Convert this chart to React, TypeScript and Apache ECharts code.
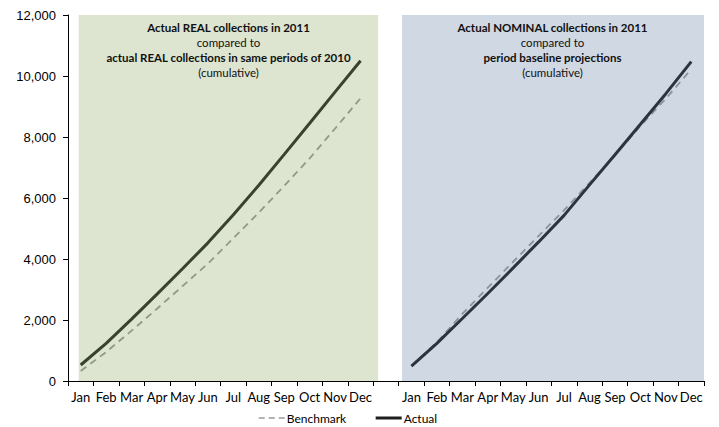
import React, { useEffect, useRef } from "react";
import * as echarts from "echarts";

const months = ["Jan", "Feb", "Mar", "Apr", "May", "Jun", "Jul", "Aug", "Sep", "Oct", "Nov", "Dec"];
const yTicks = [0, 2000, 4000, 6000, 8000, 10000, 12000];

// Left panel: REAL collections
const realActual = [525, 1235, 2030, 2850, 3680, 4530, 5450, 6420, 7430, 8450, 9480, 10500];
const realBenchmark = [330, 950, 1650, 2370, 3110, 3850, 4680, 5520, 6400, 7300, 8280, 9270];
// Right panel: NOMINAL collections
const nominalActual = [490, 1235, 2050, 2870, 3710, 4560, 5430, 6430, 7420, 8420, 9420, 10470];
const nominalBenchmark = [500, 1270, 2200, 3060, 3910, 4760, 5600, 6500, 7400, 8360, 9260, 10220];

const leftTitle = [
  { text: "Actual REAL collections in 2011", bold: true },
  { text: "compared to", bold: false },
  { text: "actual REAL collections in same periods of 2010", bold: true },
  { text: "(cumulative)", bold: false },
];
const rightTitle = [
  { text: "Actual NOMINAL collections in 2011", bold: true },
  { text: "compared to", bold: false },
  { text: "period baseline projections", bold: true },
  { text: "(cumulative)", bold: false },
];

const FONT = "Lato";

export default function App() {
  const ref = useRef<HTMLDivElement>(null);

  useEffect(() => {
    if (!ref.current) return;
    const chart = echarts.init(ref.current, undefined, { renderer: "svg" });

    const categories = [...months, "", ...months];
    const gap = [null];
    const fill = months.map(() => null);
    const leftA = [...realActual, ...gap, ...fill];
    const leftB = [...realBenchmark, ...gap, ...fill];
    const rightA = [...fill, ...gap, ...nominalActual];
    const rightB = [...fill, ...gap, ...nominalBenchmark];

    const titleTexts = (lines: { text: string; bold: boolean }[], cx: number) =>
      lines.map((l, i) => ({
        type: "text",
        x: cx,
        y: 27 + i * 15,
        style: {
          text: l.text,
          align: "center",
          verticalAlign: "middle",
          fontFamily: FONT,
          fontSize: 11.5,
          fontWeight: l.bold ? "bold" : "normal",
          fill: "#111",
        },
        z: 100,
      }));

    chart.setOption({
      animation: false,
      backgroundColor: "#ffffff",
      grid: { left: 68, right: 15, top: 15, bottom: 46, containLabel: false },
      xAxis: [
        {
          type: "category",
          data: categories,
          boundaryGap: true,
          axisLine: { show: true, lineStyle: { color: "#000", width: 1 } },
          axisTick: { show: true, length: 5, lineStyle: { color: "#000" } },
          axisLabel: { interval: 0, margin: 9, fontFamily: FONT, fontSize: 13, color: "#000" },
          splitLine: { show: false },
        },
        { type: "value", min: 0, max: 25, show: false },
      ],
      yAxis: {
        type: "value",
        min: yTicks[0],
        max: yTicks[yTicks.length - 1],
        interval: 2000,
        axisLine: { show: true, lineStyle: { color: "#000", width: 1 } },
        axisTick: { show: true, length: 5, lineStyle: { color: "#000" } },
        axisLabel: {
          margin: 12,
          fontFamily: "Liberation Sans",
          fontSize: 13,
          color: "#000",
          formatter: (v: number) => v.toLocaleString("en-US"),
        },
        splitLine: { show: false },
      },
      legend: {
        left: 253,
        top: 407,
        itemGap: 28,
        itemWidth: 26,
        itemHeight: 12,
        itemStyle: { opacity: 0 },
        textStyle: { fontFamily: FONT, fontSize: 12, color: "#000", padding: [0, 0, 0, -3] },
        data: [
          { name: "Benchmark", itemStyle: { opacity: 0 }, lineStyle: { color: "#9a9a9a", width: 1.5, type: [6, 4] } },
          { name: "Actual", itemStyle: { opacity: 0 }, lineStyle: { color: "#1e1e1e", width: 3 } },
        ],
      },
      series: [
        {
          type: "line",
          xAxisIndex: 1,
          data: [],
          silent: true,
          z: 0,
          markArea: {
            silent: true,
            data: [
              [
                { xAxis: 0.42, yAxis: 12000, itemStyle: { color: "#dde4d0" } },
                { xAxis: 12.19, yAxis: 0 },
              ],
              [
                { xAxis: 13.13, yAxis: 12000, itemStyle: { color: "#d0d8e3" } },
                { xAxis: 25, yAxis: 0 },
              ],
            ],
          },
        },
        {
          name: "Benchmark",
          type: "line",
          data: leftB,
          symbol: "none",
          connectNulls: false,
          itemStyle: { color: "#8f9a86" },
          lineStyle: { color: "#8f9a86", width: 1.8, type: [7, 5] },
          z: 3,
        },
        {
          name: "Actual",
          type: "line",
          data: leftA,
          symbol: "none",
          connectNulls: false,
          itemStyle: { color: "#38432b" },
          lineStyle: { color: "#38432b", width: 3 },
          z: 4,
        },
        {
          name: "Benchmark",
          type: "line",
          data: rightB,
          symbol: "none",
          connectNulls: false,
          itemStyle: { color: "#8c939b" },
          lineStyle: { color: "#8c939b", width: 1.8, type: [7, 5] },
          z: 3,
        },
        {
          name: "Actual",
          type: "line",
          data: rightA,
          symbol: "none",
          connectNulls: false,
          itemStyle: { color: "#2b3540" },
          lineStyle: { color: "#2b3540", width: 3 },
          z: 4,
        },
      ],
      graphic: [...titleTexts(leftTitle, 228.5), ...titleTexts(rightTitle, 552.5)],
    });

    return () => chart.dispose();
  }, []);

  return <div ref={ref} style={{ width: 719, height: 427, position: "absolute", left: 0, top: 0 }} />;
}
